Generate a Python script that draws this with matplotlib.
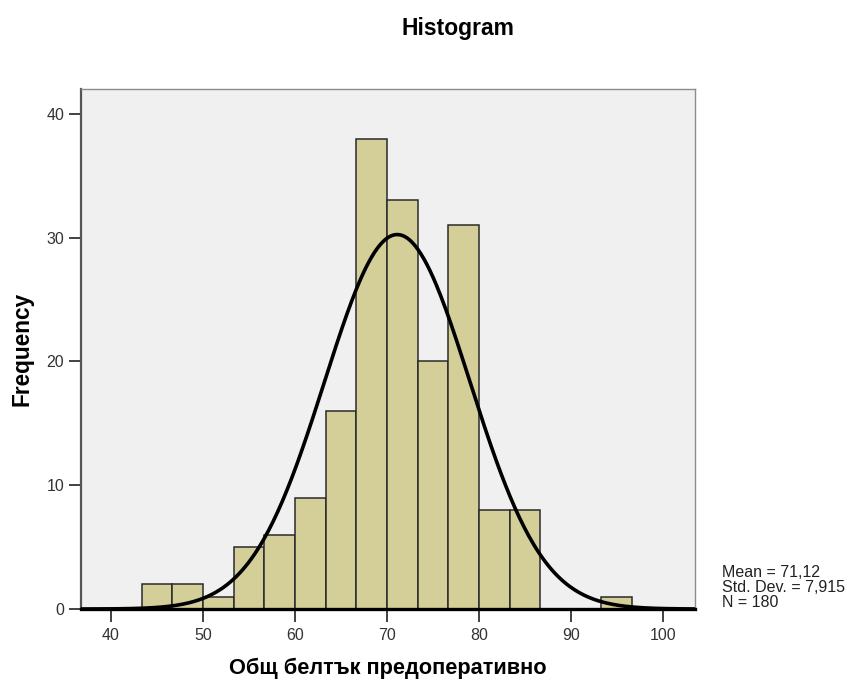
import matplotlib.pyplot as plt
import numpy as np

plt.rcParams['font.family'] = ['Liberation Sans', 'DejaVu Sans']

# histogram bins (width 10/3) and frequencies
bin_start = 43.333
bin_width = 10 / 3
counts = [2, 2, 1, 5, 6, 9, 16, 38, 33, 20, 31, 8, 8, 0, 0, 1]

mean = 71.12
std = 7.915
n = 180

xticks = [40, 50, 60, 70, 80, 90, 100]
yticks = [0, 10, 20, 30, 40]

fig = plt.figure(figsize=(8.52, 6.84), dpi=100)
ax = fig.add_axes([0.0947, 0.1096, 0.7210, 0.7603])
ax.set_facecolor('#F0F0F0')

lefts = bin_start + bin_width * np.arange(len(counts))
ax.bar(lefts, counts, width=bin_width, align='edge',
       color='#D4CF98', edgecolor='#2a2a2a', linewidth=1.1, zorder=2)

# fitted normal curve scaled to counts
xs = np.linspace(36.7, 103.5, 400)
pdf = np.exp(-0.5 * ((xs - mean) / std) ** 2) / (std * np.sqrt(2 * np.pi))
ax.plot(xs, pdf * n * bin_width, color='black', linewidth=2.6, zorder=3)

ax.set_xlim(36.7, 103.5)
ax.set_ylim(0, 42.0)
ax.set_xticks(xticks)
ax.set_yticks(yticks)
ax.tick_params(axis='both', direction='out', length=9, width=1.3,
               labelsize=11.5, labelcolor='#333333', color='#333333')
ax.tick_params(axis='x', pad=5)
ax.tick_params(axis='y', pad=3)

for side in ['top', 'right']:
    ax.spines[side].set_color('#8c8c8c')
    ax.spines[side].set_linewidth(1.0)
ax.spines['left'].set_color('#555555')
ax.spines['left'].set_linewidth(1.6)
ax.spines['bottom'].set_color('black')
ax.spines['bottom'].set_linewidth(2.4)
ax.spines['bottom'].set_zorder(4)

ax.set_xlabel('Общ белтък предоперативно', fontsize=15.7, fontweight='bold', labelpad=10)
ax.set_ylabel('Frequency', fontsize=16.3, fontweight='bold', labelpad=9)
fig.text(0.537, 0.958, 'Histogram', fontsize=16.5, fontweight='bold',
         ha='center', va='center')

stats = 'Mean = 71,12\nStd. Dev. = 7,915\nN = 180'
fig.text(0.847, 0.141, stats, fontsize=11.5, color='#222222',
         ha='left', va='center', linespacing=1.0)

fig.savefig('out.png', dpi=100)
